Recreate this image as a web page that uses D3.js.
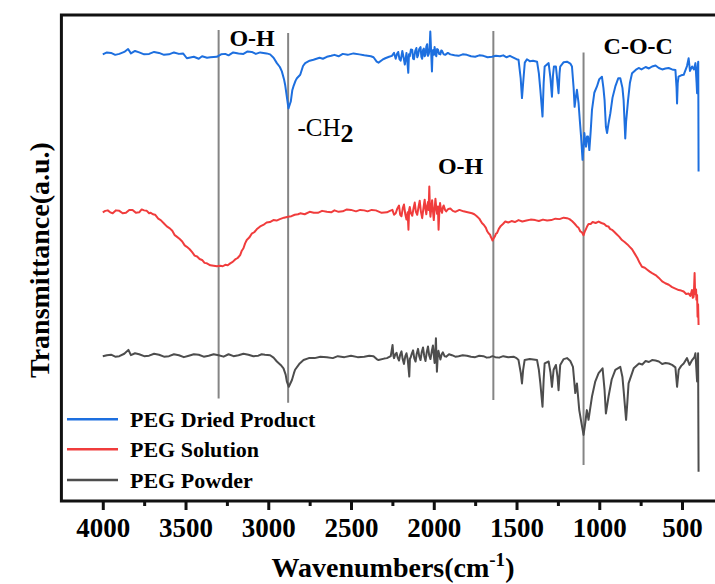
<!DOCTYPE html>
<html><head><meta charset="utf-8">
<script src="https://cdn.jsdelivr.net/npm/d3@7"></script>
<style>body{margin:0;background:#fff}svg{display:block}
svg text{font-family:"Liberation Serif","Times New Roman",Times,serif;font-weight:bold}</style>
</head><body>
<svg id="chart" width="715" height="584"></svg>
<script>
// ---- data ----
const seriesNames = ["PEG Dried Product", "PEG Solution", "PEG Powder"];
const seriesColors = ["#1d6fdf", "#f03c3c", "#4d4d4d"];

const driedProduct = [[4000,91.9],[3975,92.3],[3950,92.2],[3925,91.8],[3900,92.0],[3870,92.4],[3847,93.0],[3830,92.1],[3805,92.6],[3780,92.3],[3750,91.9],[3720,92.0],[3690,92.4],[3660,92.2],[3630,91.8],[3600,91.9],[3570,92.3],[3540,92.0],[3515,92.1],[3492,91.1],[3450,91.4],[3420,91.0],[3400,91.5],[3370,91.2],[3350,91.3],[3311,91.4],[3285,91.9],[3260,92.0],[3240,91.7],[3212,92.3],[3180,92.1],[3150,92.0],[3125,92.5],[3100,92.4],[3075,92.0],[3049,92.3],[3010,92.1],[2989,91.9],[2968,91.2],[2948,90.1],[2930,89.3],[2918,88.4],[2905,86.8],[2898,85.6],[2888,83.2],[2878,80.8],[2864,82.2],[2855,84.5],[2848,85.3],[2835,86.5],[2827,87.0],[2807,87.7],[2790,89.5],[2777,90.1],[2750,90.6],[2727,90.8],[2690,91.2],[2670,91.0],[2646,91.4],[2620,91.6],[2600,91.8],[2575,91.5],[2550,92.0],[2520,91.8],[2485,92.1],[2450,91.9],[2420,91.7],[2380,91.5],[2364,91.3],[2345,90.4],[2334,90.2],[2310,90.8],[2293,91.1],[2270,91.4],[2253,91.6],[2240,92.2],[2230,91.0],[2222,92.0],[2215,92.4],[2207,90.9],[2200,90.6],[2190,92.6],[2182,91.2],[2175,89.8],[2165,92.2],[2160,90.5],[2154,88.1],[2150,91.9],[2145,91.5],[2138,92.9],[2130,92.8],[2125,91.0],[2120,90.9],[2112,92.6],[2105,93.2],[2100,91.3],[2095,91.7],[2088,93.0],[2080,93.4],[2075,91.4],[2070,91.0],[2065,92.8],[2060,93.1],[2055,91.5],[2050,91.8],[2045,93.5],[2040,94.0],[2035,91.6],[2030,92.0],[2025,93.2],[2021,96.6],[2016,92.5],[2011,88.4],[2008,91.6],[2004,92.8],[1999,91.8],[1995,93.4],[1990,92.2],[1985,91.5],[1980,93.0],[1975,92.9],[1968,92.0],[1960,91.9],[1955,92.7],[1950,92.6],[1940,91.9],[1931,91.8],[1915,92.2],[1900,91.9],[1875,91.7],[1850,91.6],[1825,91.9],[1800,91.8],[1775,91.5],[1750,91.4],[1725,91.7],[1700,91.6],[1675,91.3],[1648,91.4],[1625,91.6],[1600,91.5],[1580,91.7],[1560,91.3],[1540,91.6],[1528,91.4],[1500,90.9],[1488,90.8],[1475,87.0],[1467,82.9],[1460,86.0],[1457,87.3],[1450,90.2],[1437,90.9],[1420,90.5],[1400,90.6],[1376,90.4],[1365,88.0],[1356,84.6],[1343,79.1],[1336,86.0],[1330,89.4],[1306,90.1],[1295,87.0],[1286,83.2],[1280,87.5],[1274,89.4],[1262,89.4],[1252,86.0],[1246,83.9],[1240,88.0],[1236,89.4],[1215,90.3],[1195,90.4],[1175,90.0],[1165,89.4],[1155,85.0],[1149,81.1],[1142,83.0],[1135,84.6],[1125,81.8],[1118,78.5],[1110,75.0],[1101,70.2],[1095,73.0],[1090,75.7],[1085,74.0],[1080,72.9],[1074,75.0],[1068,75.0],[1060,72.2],[1052,76.0],[1044,80.5],[1030,84.0],[1014,85.3],[1000,86.8],[984,87.3],[975,85.0],[968,82.5],[960,77.0],[953,75.7],[945,77.5],[933,79.8],[920,83.0],[903,85.3],[885,87.0],[873,87.0],[860,85.0],[853,82.5],[846,77.0],[843,74.6],[838,78.0],[826,82.5],[815,86.0],[802,88.0],[780,88.7],[762,89.1],[745,88.8],[720,89.3],[700,89.0],[681,89.4],[660,89.6],[640,89.1],[620,88.8],[600,89.0],[581,89.1],[560,88.8],[540,88.7],[533,85.0],[530,81.8],[526,86.0],[521,87.3],[505,87.6],[490,87.7],[470,89.5],[460,91.1],[452,88.5],[439,89.4],[428,88.8],[419,90.1],[412,86.0],[409,83.9],[406,89.0],[402,90.4],[400,67.8]];

const solution = [[4000,59.4],[3985,59.7],[3970,59.8],[3955,59.4],[3940,59.2],[3920,59.8],[3900,59.7],[3880,59.2],[3860,59.3],[3840,59.9],[3820,59.9],[3800,59.3],[3780,59.4],[3765,60.0],[3750,59.8],[3734,59.7],[3720,59.2],[3710,59.3],[3697,59.0],[3684,58.9],[3665,58.1],[3650,57.8],[3630,57.1],[3613,56.5],[3595,56.1],[3580,55.6],[3565,54.7],[3553,54.4],[3535,53.9],[3520,53.4],[3505,52.6],[3492,52.3],[3475,51.8],[3460,51.2],[3445,50.5],[3430,50.3],[3415,49.8],[3400,49.6],[3385,49.0],[3371,48.9],[3350,48.5],[3330,48.4],[3310,48.3],[3291,48.4],[3275,48.3],[3260,48.6],[3245,48.5],[3230,48.9],[3215,49.2],[3200,49.7],[3185,50.0],[3170,50.6],[3160,51.5],[3150,52.0],[3140,53.0],[3130,53.7],[3115,54.2],[3100,55.0],[3085,55.3],[3070,55.9],[3049,56.5],[3030,56.8],[3010,57.3],[2990,57.4],[2969,57.8],[2950,57.7],[2930,58.0],[2905,58.3],[2880,58.5],[2860,58.6],[2840,58.9],[2820,59.0],[2807,59.2],[2780,59.0],[2750,59.5],[2725,59.3],[2700,59.3],[2675,59.7],[2646,59.5],[2620,59.4],[2600,59.8],[2575,59.5],[2550,59.6],[2525,60.0],[2500,59.9],[2470,59.6],[2445,59.9],[2420,59.8],[2400,59.6],[2375,59.9],[2350,59.8],[2315,59.3],[2283,59.4],[2265,59.7],[2250,59.9],[2240,58.9],[2230,59.2],[2220,60.2],[2210,60.8],[2203,58.9],[2195,58.6],[2187,60.3],[2180,61.0],[2172,59.0],[2165,57.9],[2158,59.4],[2153,55.8],[2149,59.9],[2145,60.5],[2138,59.2],[2130,58.7],[2122,60.3],[2115,61.4],[2108,59.5],[2100,58.9],[2092,60.5],[2085,61.8],[2078,59.6],[2070,58.2],[2063,60.1],[2055,62.0],[2050,60.0],[2045,59.0],[2040,60.7],[2035,61.5],[2031,59.9],[2027,64.7],[2023,59.8],[2020,58.5],[2015,60.2],[2010,61.9],[2005,59.7],[2000,57.8],[1995,60.0],[1990,62.2],[1985,60.3],[1980,59.1],[1975,60.6],[1971,55.8],[1966,59.9],[1962,61.3],[1956,59.8],[1950,59.3],[1945,60.4],[1940,60.8],[1932,59.9],[1925,59.6],[1912,60.1],[1900,60.2],[1885,59.7],[1870,59.5],[1845,59.9],[1820,59.6],[1795,59.4],[1769,59.2],[1755,59.0],[1740,58.6],[1725,58.1],[1709,57.2],[1697,56.8],[1685,56.2],[1677,55.5],[1669,55.1],[1660,54.8],[1655,54.3],[1650,54.0],[1645,53.6],[1637,54.1],[1630,54.5],[1624,55.0],[1618,55.1],[1607,56.0],[1595,56.6],[1582,57.0],[1568,57.5],[1550,57.3],[1530,57.6],[1510,57.4],[1488,57.8],[1465,57.5],[1440,57.7],[1415,57.9],[1387,57.8],[1365,57.6],[1340,57.9],[1315,57.7],[1290,57.8],[1265,58.1],[1240,58.0],[1215,58.3],[1195,58.2],[1180,58.0],[1165,57.6],[1150,57.1],[1135,56.5],[1125,56.2],[1115,55.5],[1105,55.3],[1095,54.7],[1087,55.5],[1080,56.0],[1072,56.6],[1065,57.0],[1052,57.0],[1040,57.4],[1022,57.2],[1004,57.5],[987,57.2],[970,57.0],[957,56.6],[945,56.5],[935,56.0],[923,55.8],[910,55.4],[895,54.9],[880,54.4],[863,53.7],[847,53.3],[830,52.8],[816,52.3],[802,51.8],[786,50.9],[770,50.0],[756,49.0],[742,48.2],[725,48.0],[710,47.6],[695,47.2],[681,46.9],[660,46.5],[640,45.9],[620,45.2],[601,44.8],[580,44.5],[560,44.0],[540,43.7],[520,43.4],[505,43.3],[490,43.1],[475,42.6],[460,42.7],[450,42.2],[440,43.4],[435,41.8],[430,42.0],[427,44.0],[424,46.9],[421,42.9],[418,42.5],[415,43.5],[413,41.4],[409,42.4],[406,37.9],[403,40.5],[400,36.2]];

const powder = [[4000,29.8],[3975,30.0],[3950,30.1],[3925,29.7],[3900,29.8],[3870,30.3],[3845,31.1],[3830,30.0],[3805,30.4],[3780,30.2],[3750,29.8],[3720,29.9],[3690,30.3],[3660,30.1],[3630,29.7],[3600,29.8],[3570,30.2],[3540,30.0],[3510,29.6],[3480,29.9],[3450,30.2],[3420,30.1],[3390,29.7],[3360,29.9],[3330,30.2],[3300,30.0],[3270,29.7],[3240,30.2],[3210,29.8],[3180,30.0],[3150,30.3],[3120,30.1],[3090,29.8],[3060,29.9],[3040,30.2],[3020,30.1],[2989,30.0],[2968,29.5],[2948,28.7],[2925,28.0],[2908,27.3],[2895,26.0],[2888,24.6],[2876,23.5],[2857,24.9],[2845,26.3],[2838,27.0],[2810,28.3],[2787,29.0],[2755,29.4],[2720,29.4],[2685,29.7],[2646,29.6],[2610,29.4],[2580,29.8],[2540,29.6],[2500,29.9],[2460,29.6],[2420,29.7],[2390,29.9],[2364,29.8],[2345,29.2],[2334,29.0],[2300,29.3],[2283,29.4],[2260,29.8],[2249,32.1],[2244,29.9],[2240,29.4],[2232,30.2],[2225,30.5],[2218,29.5],[2210,28.9],[2203,30.1],[2195,30.8],[2188,29.2],[2180,28.2],[2172,29.8],[2165,30.4],[2157,29.0],[2148,25.6],[2144,29.3],[2140,29.5],[2132,30.4],[2125,31.0],[2118,29.4],[2110,28.7],[2103,30.3],[2095,31.3],[2088,29.8],[2080,29.0],[2073,30.6],[2065,31.6],[2058,29.9],[2050,28.8],[2043,30.5],[2035,31.8],[2028,30.0],[2020,29.2],[2012,30.8],[2005,32.0],[2000,30.1],[1995,28.4],[1991,30.5],[1987,33.5],[1984,30.0],[1981,26.6],[1976,29.9],[1972,30.9],[1966,30.0],[1960,29.1],[1952,30.2],[1945,30.6],[1935,29.8],[1925,29.7],[1908,30.2],[1890,30.0],[1870,29.7],[1850,29.8],[1825,30.0],[1800,29.9],[1775,29.7],[1750,29.6],[1725,29.9],[1700,29.8],[1680,29.5],[1660,29.6],[1645,29.8],[1628,29.6],[1605,29.5],[1580,29.8],[1550,29.6],[1518,29.7],[1500,29.4],[1488,29.0],[1475,26.5],[1467,24.2],[1460,27.0],[1451,29.0],[1420,29.2],[1376,29.0],[1365,27.0],[1356,24.2],[1343,19.4],[1336,25.0],[1330,28.3],[1306,28.7],[1295,26.5],[1286,23.5],[1276,27.0],[1262,28.0],[1252,25.5],[1246,22.8],[1240,26.0],[1236,28.0],[1215,29.2],[1195,29.4],[1175,28.8],[1159,27.6],[1145,22.2],[1135,24.2],[1121,18.7],[1104,15.3],[1095,13.6],[1085,16.0],[1075,18.7],[1065,16.7],[1055,19.0],[1044,21.5],[1025,24.5],[1004,26.3],[980,27.3],[968,22.8],[960,18.0],[944,21.5],[925,25.0],[903,27.0],[873,27.6],[860,25.5],[853,22.8],[838,16.7],[830,20.5],[823,24.2],[792,27.3],[760,28.3],[740,28.1],[720,28.8],[700,28.6],[681,29.0],[660,28.9],[640,28.7],[620,28.2],[600,28.4],[580,28.3],[560,28.0],[540,27.5],[530,23.5],[520,27.0],[505,27.8],[490,28.3],[470,29.4],[455,28.0],[439,29.0],[425,29.6],[419,30.4],[409,24.6],[403,30.4],[400,6.0]];

const majorTicks = [4000, 3500, 3000, 2500, 2000, 1500, 1000, 500];
const minorTicks = [3750, 3250, 2750, 2250, 1750, 1250, 750];

// marker lines: wavenumber, top value, bottom value
const markerWn = [3300, 2880, 1640, 1095];
const markerTop = [96.9, 96.3, 96.7, 92.3];
const markerBottom = [21.1, 20.2, 20.8, 7.4];

// annotations: label, wavenumber of left edge, baseline value
const annoText = ["O-H", "-CH", "O-H", "C-O-C"];
const annoWn = [3235, 2824, 1975, 974];
const annoVal = [93.7, 75.1, 67.3, 92.0];

// ---- chart ----
const svg = d3.select("#chart");
const x = d3.scaleLinear().domain([4250, 250]).range([61.4, 723.4]);
const y = d3.scaleLinear().domain([0, 100]).range([501, 15]);

// markers
svg.append("g").selectAll("line").data(markerWn).join("line")
  .attr("x1", d => x(d)).attr("x2", d => x(d))
  .attr("y1", (d, i) => y(markerTop[i])).attr("y2", (d, i) => y(markerBottom[i]))
  .attr("stroke", "#858585").attr("stroke-width", 2);

// spectra
const line = d3.line().x(d => x(d[0])).y(d => y(d[1]));
const allSeries = [driedProduct, solution, powder];
svg.append("g").selectAll("path").data(allSeries).join("path")
  .attr("d", line).attr("fill", "none")
  .attr("stroke", (d, i) => seriesColors[i]).attr("stroke-width", 2)
  .attr("stroke-linejoin", "round");

// annotations
const ann = svg.append("g").attr("fill", "#000");
annoText.forEach((t, i) => {
  const tx = ann.append("text").attr("x", x(annoWn[i])).attr("y", y(annoVal[i])).style("font-size", "24px").text(t);
  if (t === "-CH") {
    tx.style("font-size", "25px").style("font-weight", "normal");
    tx.append("tspan").attr("dy", 6).style("font-size", "26px").style("font-weight", "bold").text("2");
  }
});

// frame
svg.append("rect").attr("x", x(4250)).attr("y", y(100)).attr("width", x(250) - x(4250)).attr("height", y(0) - y(100))
  .attr("fill", "none").attr("stroke", "#111").attr("stroke-width", 3);

// axis ticks
const gMinor = svg.append("g").attr("transform", `translate(0,${y(0)})`)
  .call(d3.axisBottom(x).tickValues(minorTicks).tickSize(5).tickFormat(""));
const gMajor = svg.append("g").attr("transform", `translate(0,${y(0)})`)
  .call(d3.axisBottom(x).tickValues(majorTicks).tickSize(9).tickPadding(8).tickFormat(d3.format("d")));
[gMinor, gMajor].forEach(g => {
  g.select(".domain").remove();
  g.attr("font-family", null).attr("font-size", null);
  g.selectAll(".tick line").attr("stroke", "#111").attr("stroke-width", 3);
});
gMajor.selectAll(".tick text").style("font-size", "27px").attr("fill", "#000");

// axis titles
const xt = svg.append("text").attr("x", 393).attr("y", 577).attr("text-anchor", "middle")
  .style("font-size", "28px").attr("fill", "#000").text("Wavenumbers(cm");
xt.append("tspan").attr("dy", -11).style("font-size", "19px").text("-1");
xt.append("tspan").attr("dy", 11).text(")");

svg.append("text").attr("transform", "translate(49,260) rotate(-90)").attr("text-anchor", "middle")
  .style("font-size", "28px").attr("fill", "#000").text("Transmittance(a.u.)");

// legend
const legY = [419.3, 449.3, 480];
const leg = svg.append("g");
seriesNames.forEach((n, i) => {
  leg.append("line").attr("x1", 67).attr("x2", 118).attr("y1", legY[i]).attr("y2", legY[i])
    .attr("stroke", seriesColors[i]).attr("stroke-width", 2.5);
  leg.append("text").attr("x", 130).attr("y", legY[i] + 8).style("font-size", "22px").attr("fill", "#000").text(n);
});
</script>
</body></html>
